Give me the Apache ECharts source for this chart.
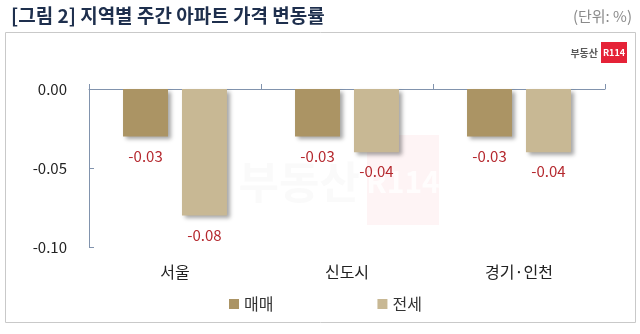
<!DOCTYPE html>
<html><head><meta charset="utf-8">
<script src="https://cdn.jsdelivr.net/npm/echarts@6/dist/echarts.min.js"></script>
<style>html,body{margin:0;padding:0;background:#fff}#c{width:640px;height:334px}</style>
</head><body><div id="c"></div>
<script>
const categories = ['서울', '신도시', '경기·인천'];
const seriesNames = ['매매', '전세'];
const saleValues = [-0.03, -0.03, -0.03];
const jeonseValues = [-0.08, -0.04, -0.04];
const yTicks = { min: -0.10, max: 0.00, interval: 0.05 };

const FONT = '"Noto Sans CJK KR", "Noto Sans", sans-serif';
const chart = echarts.init(document.getElementById('c'), null, { renderer: 'canvas' });

function barSeries(name, data, color) {
  return {
    name: name, type: 'bar', data: data, xAxisIndex: 0,
    barWidth: 45, barGap: '31%',
    itemStyle: { color: color, shadowColor: 'rgba(0,0,0,0.35)', shadowBlur: 4, shadowOffsetX: 3, shadowOffsetY: 3 },
    label: { show: true, position: 'bottom', distance: 12, color: '#b5282e', fontSize: 15, fontFamily: FONT,
      formatter: p => p.value.toFixed(2) }
  };
}

chart.setOption({
  animation: false,
  textStyle: { fontFamily: FONT },
  title: { text: '[그림 2] 지역별 주간 아파트 가격 변동률', left: 6, top: 1,
    textStyle: { fontSize: 19, fontWeight: 'bold', color: '#1e2f4d', fontFamily: FONT } },
  graphic: [
    { type: 'rect', shape: { x: 5.5, y: 32.5, width: 630, height: 290 }, style: { fill: 'none', stroke: '#c9c9c9', lineWidth: 1 } },
    { type: 'text', style: { text: '(단위: %)', x: 632, y: 16, textAlign: 'right', textVerticalAlign: 'middle', fontSize: 15, fill: '#8a8a8a', fontFamily: FONT } },
    { type: 'text', style: { text: '부동산', x: 598, y: 53, textAlign: 'right', textVerticalAlign: 'middle', fontSize: 10, fontWeight: 'bold', fill: '#5a5a5a', fontFamily: FONT } },
    { type: 'rect', shape: { x: 601, y: 42, width: 26, height: 21 }, style: { fill: '#e52237' } },
    { type: 'text', style: { text: 'R114', x: 614, y: 53, textAlign: 'center', textVerticalAlign: 'middle', fontSize: 9, fontWeight: 'bold', fill: '#ffffff', fontFamily: FONT } },
    { type: 'text', style: { text: '부동산', x: 360, y: 182, textAlign: 'right', textVerticalAlign: 'middle', fontSize: 44, fontWeight: 'bold', fill: 'rgba(190,190,190,0.07)', fontFamily: FONT } },
    { type: 'rect', shape: { x: 367, y: 135, width: 72, height: 90 }, style: { fill: 'rgba(230,40,60,0.05)' } },
    { type: 'text', style: { text: 'R114', x: 403, y: 182, textAlign: 'center', textVerticalAlign: 'middle', fontSize: 30, fontWeight: 'bold', fill: 'rgba(255,255,255,0.8)', fontFamily: FONT } }
  ],
  legend: {
    data: seriesNames, bottom: 17, left: 224, itemWidth: 10, itemHeight: 10, itemGap: 104,
    icon: 'rect', textStyle: { fontSize: 16, color: '#333', fontFamily: FONT }
  },
  grid: { left: 89, right: 35, top: 89, bottom: 87, containLabel: false },
  xAxis: [
    { type: 'category', data: categories, position: 'top',
      axisLine: { lineStyle: { color: '#8193ad', width: 1 } },
      axisTick: { show: true, length: 5, lineStyle: { color: '#8193ad' } },
      axisLabel: { show: false } },
    { type: 'category', data: categories, position: 'bottom',
      axisLine: { show: false }, axisTick: { show: false },
      axisLabel: { show: true, margin: 17, fontSize: 16, color: '#222', fontFamily: FONT } }
  ],
  yAxis: {
    type: 'value', min: yTicks.min, max: yTicks.max, interval: yTicks.interval,
    axisLine: { show: true, lineStyle: { color: '#8193ad', width: 1 } },
    axisTick: { show: true, inside: true, length: 5, lineStyle: { color: '#8193ad' } },
    splitLine: { show: false },
    axisLabel: { margin: 22, fontSize: 15, color: '#222', fontFamily: FONT, formatter: v => v.toFixed(2) }
  },
  series: [
    barSeries(seriesNames[0], saleValues, '#ab9464'),
    barSeries(seriesNames[1], jeonseValues, '#c8b894')
  ]
});
</script></body></html>
